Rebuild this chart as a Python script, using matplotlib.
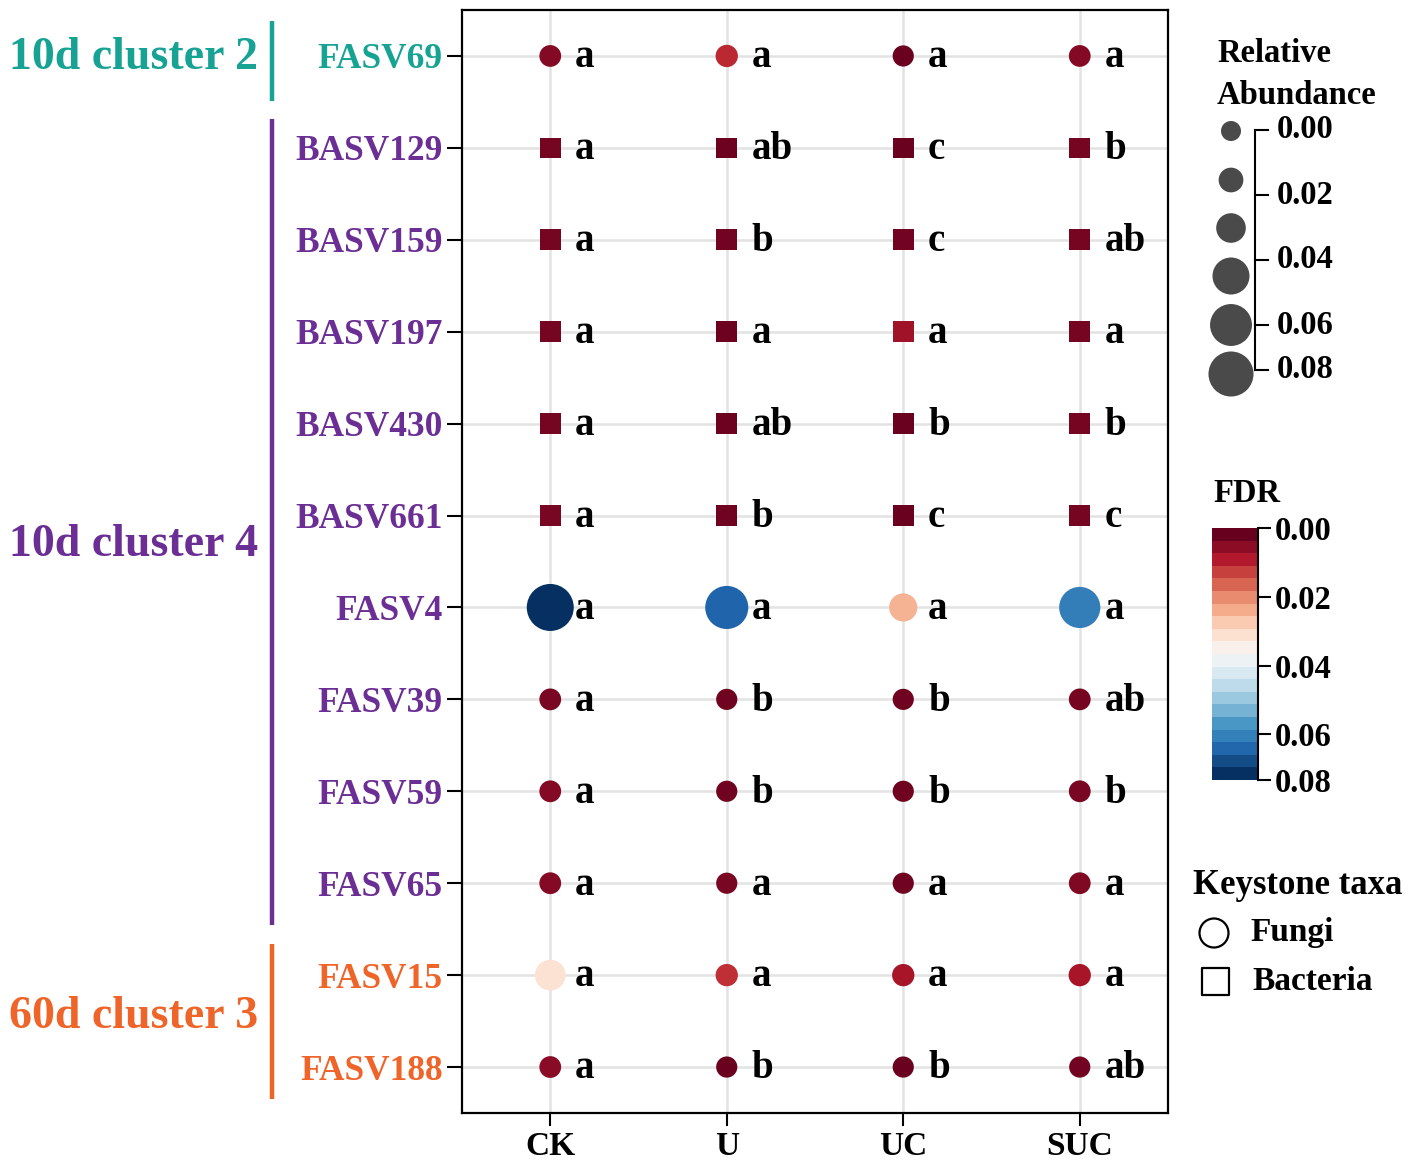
import numpy as np
import matplotlib
matplotlib.use("Agg")
import matplotlib.pyplot as plt
from matplotlib.colors import Normalize
from matplotlib.transforms import blended_transform_factory

plt.rcParams['font.family'] = ['Liberation Serif', 'DejaVu Serif']
plt.rcParams['font.weight'] = 'bold'

# ---------------- data ----------------
taxa = ['FASV69', 'BASV129', 'BASV159', 'BASV197', 'BASV430', 'BASV661',
        'FASV4', 'FASV39', 'FASV59', 'FASV65', 'FASV15', 'FASV188']
kingdom = ['Fungi', 'Bacteria', 'Bacteria', 'Bacteria', 'Bacteria', 'Bacteria',
           'Fungi', 'Fungi', 'Fungi', 'Fungi', 'Fungi', 'Fungi']
cluster = ['10d cluster 2'] + ['10d cluster 4'] * 9 + ['60d cluster 3'] * 2
groups = ['CK', 'U', 'UC', 'SUC']

abundance = [
    [0.003, 0.004, 0.002, 0.003],
    [0.001, 0.001, 0.001, 0.001],
    [0.001, 0.001, 0.001, 0.001],
    [0.001, 0.001, 0.001, 0.001],
    [0.001, 0.001, 0.001, 0.001],
    [0.001, 0.001, 0.001, 0.001],
    [0.0733, 0.059, 0.016, 0.0525],
    [0.003, 0.002, 0.002, 0.003],
    [0.003, 0.002, 0.002, 0.003],
    [0.003, 0.002, 0.002, 0.003],
    [0.022, 0.004, 0.004, 0.004],
    [0.003, 0.002, 0.002, 0.002],
]
fdr = [
    [0.003, 0.009, 0.0005, 0.003],
    [0.0015, 0.0008, 0.0005, 0.0015],
    [0.0015, 0.0012, 0.0012, 0.0015],
    [0.0015, 0.0008, 0.0055, 0.0015],
    [0.0015, 0.0008, 0.0005, 0.0015],
    [0.002, 0.001, 0.0005, 0.0015],
    [0.0733, 0.066, 0.024, 0.062],
    [0.002, 0.001, 0.001, 0.0015],
    [0.003, 0.001, 0.001, 0.002],
    [0.003, 0.002, 0.001, 0.0025],
    [0.031, 0.010, 0.0065, 0.0065],
    [0.0035, 0.0005, 0.0005, 0.0012],
]
letters = [
    ['a', 'a', 'a', 'a'],
    ['a', 'ab', 'c', 'b'],
    ['a', 'b', 'c', 'ab'],
    ['a', 'a', 'a', 'a'],
    ['a', 'ab', 'b', 'b'],
    ['a', 'b', 'c', 'c'],
    ['a', 'a', 'a', 'a'],
    ['a', 'b', 'b', 'ab'],
    ['a', 'b', 'b', 'b'],
    ['a', 'a', 'a', 'a'],
    ['a', 'a', 'a', 'a'],
    ['a', 'b', 'b', 'ab'],
]
cluster_names = ['10d cluster 2', '10d cluster 4', '60d cluster 3']
cluster_colors = {'10d cluster 2': '#17A394', '10d cluster 4': '#6B2E94',
                  '60d cluster 3': '#EE6429'}

size_legend_vals = [0.0, 0.0086, 0.0193, 0.0393, 0.055, 0.066]
size_legend_labels = ['0.00', '0.02', '0.04', '0.06', '0.08']
fdr_ticks = [0.0, 0.02, 0.04, 0.06, 0.0733]
fdr_tick_labels = ['0.00', '0.02', '0.04', '0.06', '0.08']

RA_MAX = 0.0733
FDR_MAX = 0.0733

# ---------------- helpers ----------------
W, H = 1417, 1168
def fx(px): return px / W
def fy(py): return 1 - py / H

def msize(ra):
    dpx = np.sqrt(400 + (2209 - 400) * np.asarray(ra) / RA_MAX)
    return (dpx * 0.72) ** 2

cmap = plt.get_cmap('RdBu')
norm = Normalize(0, FDR_MAX)

fig = plt.figure(figsize=(W / 100, H / 100), dpi=100)

# overlay axes in pixel coordinates for legends
ov = fig.add_axes([0, 0, 1, 1])
ov.set_xlim(0, W)
ov.set_ylim(H, 0)
ov.axis('off')

ax = fig.add_axes([fx(462), fy(1113), fx(1168) - fx(462), fy(10) - fy(1113)])
ax.set_xlim(-0.5, 3.5)
ax.set_ylim(11.5, -0.5)
ax.set_axisbelow(True)
ax.grid(True, color='#e3e3e3', linewidth=1.8)

ab = np.array(abundance)
fd = np.array(fdr)
for i, t in enumerate(taxa):
    mk = 'o' if kingdom[i] == 'Fungi' else 's'
    xs = np.arange(len(groups))
    ys = np.full(len(groups), i)
    ax.scatter(xs, ys, s=msize(ab[i]), c=cmap(norm(fd[i])), marker=mk,
               linewidths=0, zorder=3)
    for j in range(len(groups)):
        ax.text(j + 0.14, i + 0.02, letters[i][j], fontsize=28, fontweight='bold',
                ha='left', va='center', zorder=4)

ax.set_xticks(range(len(groups)))
ax.set_xticklabels(groups, fontsize=24, fontweight='bold')
ax.set_yticks(range(len(taxa)))
ax.set_yticklabels(taxa, fontsize=25.5, fontweight='bold')
for lbl, cl in zip(ax.get_yticklabels(), cluster):
    lbl.set_color(cluster_colors[cl])
ax.tick_params(axis='y', length=11, width=1.5, pad=3)
ax.tick_params(axis='x', length=9, width=1.5, pad=4)
for sp in ax.spines.values():
    sp.set_linewidth(1.6)

# cluster brackets
trans = blended_transform_factory(ax.transAxes, ax.transData)
spans = {'10d cluster 2': (-0.38, 0.49, 0.02),
         '10d cluster 4': (0.685, 9.45, 5.32),
         '60d cluster 3': (9.66, 11.35, 10.46)}
for cn in cluster_names:
    y0, y1, yl = spans[cn]
    ax.plot([-0.269, -0.269], [y0, y1], transform=trans, color=cluster_colors[cn],
            lw=3.2, clip_on=False, solid_capstyle='butt')
    ax.text(-0.289, yl, cn, transform=trans, color=cluster_colors[cn],
            fontsize=33, fontweight='bold', ha='right', va='center')

# ---------------- size legend ----------------
ov.text(1217, 54, 'Relative', fontsize=23.5, fontweight='bold', ha='left', va='center')
ov.text(1217, 95, 'Abundance', fontsize=23.5, fontweight='bold', ha='left', va='center')
circ_y = [131, 180, 228, 276, 325, 374]
ov.scatter([1231] * len(size_legend_vals), circ_y, s=msize(size_legend_vals),
           color='#4a4a4a', linewidths=0)
tick_y = [130, 195, 260, 325, 370]
ov.plot([1255, 1255], [tick_y[0], tick_y[-1]], color='black', lw=1.5)
for ty, lab in zip(tick_y, size_legend_labels):
    ov.plot([1255, 1268], [ty, ty], color='black', lw=1.5)
    ov.text(1277, ty, lab, fontsize=23.5, fontweight='bold', ha='left', va='center')

# ---------------- FDR colorbar ----------------
ov.text(1213, 493, 'FDR', fontsize=23.5, fontweight='bold', ha='left', va='center')
cax = fig.add_axes([fx(1212), fy(780), fx(1258) - fx(1212), fy(528) - fy(780)])
nb = 20
bounds = np.linspace(0, FDR_MAX, nb + 1)
band_cols = cmap(np.linspace(0, 1, nb))
for k in range(nb):
    cax.axhspan(bounds[k], bounds[k + 1], color=band_cols[k], lw=0)
cax.set_xlim(0, 1)
cax.set_ylim(FDR_MAX, 0)
for s in ['left', 'top', 'bottom']:
    cax.spines[s].set_visible(False)
cax.spines['right'].set_linewidth(1.5)
cax.set_xticks([])
cax.yaxis.tick_right()
cax.set_yticks(fdr_ticks)
cax.set_yticklabels(fdr_tick_labels, fontsize=23.5, fontweight='bold')
cax.tick_params(axis='y', length=9, width=1.5, pad=3, direction='out')

# ---------------- keystone legend ----------------
ov.text(1193, 885, 'Keystone taxa', fontsize=25, fontweight='bold', ha='left', va='center')
ov.scatter([1214], [933], s=(29 * 0.72) ** 2, marker='o', facecolors='none',
           edgecolors='black', linewidths=1.6)
ov.scatter([1215], [981], s=(27 * 0.72) ** 2, marker='s', facecolors='none',
           edgecolors='black', linewidths=1.6)
ov.text(1250, 933, 'Fungi', fontsize=24, fontweight='bold', ha='left', va='center')
ov.text(1252, 981, 'Bacteria', fontsize=24, fontweight='bold', ha='left', va='center')

fig.savefig('out.png', dpi=100)
